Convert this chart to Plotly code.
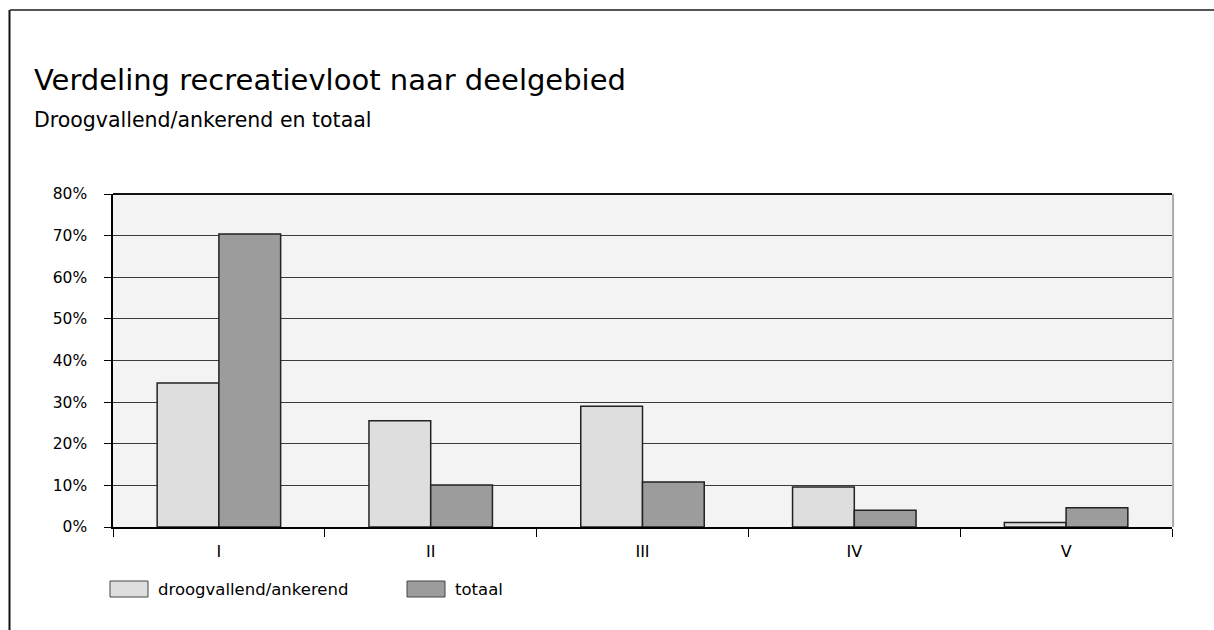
import plotly.graph_objects as go

# Deelgebieden en aandeel van de recreatievloot (fractie)
categories = ["I", "II", "III", "IV", "V"]
series_names = ["droogvallend/ankerend", "totaal"]
droogvallend = [0.346, 0.255, 0.290, 0.096, 0.011]
totaal = [0.704, 0.101, 0.108, 0.040, 0.046]
y_ticks = [0.0, 0.1, 0.2, 0.3, 0.4, 0.5, 0.6, 0.7, 0.8]
y_tick_labels = ["0%", "10%", "20%", "30%", "40%", "50%", "60%", "70%", "80%"]

title = "Verdeling recreatievloot naar deelgebied"
subtitle = "Droogvallend/ankerend en totaal"

W, H = 1214, 630
ML, MR, MT, MB = 113, 42, 194, 103
PW, PH = W - ML - MR, H - MT - MB

FONT = "DejaVu Sans, Arial, sans-serif"
LIGHT, DARK, EDGE = "#dedede", "#9c9c9c", "#222222"


def px(x):
    return (x - ML) / PW


def py(y):
    return (H - MB - y) / PH


fig = go.Figure()
for name, vals, col in [(series_names[0], droogvallend, LIGHT), (series_names[1], totaal, DARK)]:
    fig.add_trace(go.Bar(
        x=categories, y=vals, name=name,
        marker=dict(color=col, line=dict(color=EDGE, width=1.5)),
        showlegend=False, hoverinfo="x+y",
    ))

shapes = [
    # outer frame (left and top)
    dict(type="line", xref="paper", yref="paper", x0=px(10), x1=px(W + 5), y0=py(10), y1=py(10),
         line=dict(color="#555555", width=2)),
    dict(type="line", xref="paper", yref="paper", x0=px(9.5), x1=px(9.5), y0=py(10), y1=py(H + 5),
         line=dict(color="#111111", width=2)),
    # top edge of plot area
    dict(type="line", xref="paper", yref="paper", x0=0, x1=1, y0=1, y1=1,
         line=dict(color="#111111", width=2), layer="above"),
    # right edge of plot area
    dict(type="line", xref="paper", yref="paper", x0=1.001, x1=1.001, y0=0, y1=1,
         line=dict(color="#aaaaaa", width=2), layer="above"),
]

annotations = [
    dict(text=title, xref="paper", yref="paper", x=px(32), y=py(80), xanchor="left", yanchor="middle",
         showarrow=False, font=dict(family=FONT, size=29, color="#000000")),
    dict(text=subtitle, xref="paper", yref="paper", x=px(32), y=py(120), xanchor="left", yanchor="middle",
         showarrow=False, font=dict(family=FONT, size=20.5, color="#000000")),
]

# legend swatches with labels
legend_items = [(series_names[0], LIGHT, 110), (series_names[1], DARK, 407)]
for name, col, x0 in legend_items:
    shapes.append(dict(type="rect", xref="paper", yref="paper", x0=px(x0), x1=px(x0 + 38),
                       y0=py(597), y1=py(581), fillcolor=col, line=dict(color="#444444", width=1)))
    annotations.append(dict(text=name, xref="paper", yref="paper", x=px(x0 + 46), y=py(589),
                            xanchor="left", yanchor="middle", showarrow=False,
                            font=dict(family=FONT, size=16.5, color="#000000")))

fig.update_layout(
    width=W, height=H,
    margin=dict(l=ML, r=MR, t=MT, b=MB),
    paper_bgcolor="#ffffff", plot_bgcolor="#f3f3f3",
    barmode="group", bargap=0.417, bargroupgap=0,
    font=dict(family=FONT, size=16, color="#000000"),
    shapes=shapes, annotations=annotations,
    showlegend=False,
)
fig.update_xaxes(
    type="category", tickson="boundaries", ticks="outside", ticklen=8, tickcolor="#000000",
    tickwidth=1, showline=True, linecolor="#000000", linewidth=1.5, showgrid=False,
    tickfont=dict(family=FONT, size=16), ticklabelstandoff=9,
)
fig.update_yaxes(
    range=[0, 0.8], tickvals=y_ticks, ticktext=y_tick_labels, ticks="outside", ticklen=7,
    tickcolor="#000000", showline=True, linecolor="#000000", linewidth=1.5,
    showgrid=True, gridcolor="#3a3a3a", gridwidth=1, zeroline=False,
    tickfont=dict(family=FONT, size=15.5), ticklabelstandoff=14,
)

fig.write_html("out.html")
